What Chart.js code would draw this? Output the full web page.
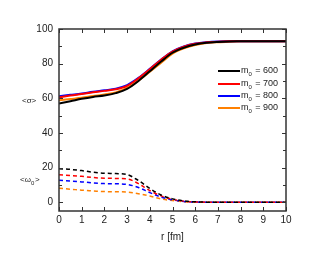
<!DOCTYPE html>
<html>
<head>
<meta charset="utf-8">
<script src="https://cdn.jsdelivr.net/npm/chart.js@4.4.1/dist/chart.umd.min.js"></script>
<style>
  html, body { margin: 0; padding: 0; background: #fff; }
  #wrap { width: 332px; height: 254px; }
</style>
</head>
<body>
<div id="wrap"><canvas id="c" width="332" height="254"></canvas></div>
<script>
// radius values (fm)
const rValues = [0, 0.5, 1, 1.5, 2, 2.5, 3, 3.5, 4, 4.5, 5, 5.5, 6, 6.5, 7, 7.5, 8, 8.5, 9, 9.5, 10];

// <sigma> for each m0
const sigma600 = [57, 58.3, 59.7, 60.8, 61.6, 63, 65.4, 70, 75.6, 81.2, 86.3, 89.2, 91, 92, 92.5, 92.8, 92.9, 93, 93, 93, 93];
const sigma700 = [60.5, 61.6, 62.5, 63.5, 64.3, 65.2, 67.2, 71.5, 76.8, 82.3, 87, 89.8, 91.5, 92.3, 92.7, 92.9, 93, 93, 93, 93, 93];
const sigma800 = [61.2, 62, 62.8, 63.8, 64.6, 65.5, 67.6, 71.8, 77, 82.4, 87.1, 89.9, 91.6, 92.4, 92.8, 92.9, 93, 93, 93, 93, 93];
const sigma900 = [58.9, 59.6, 60.3, 61.3, 62.2, 63.4, 66, 70.2, 75.3, 80.6, 85.8, 88.8, 90.8, 91.9, 92.4, 92.7, 92.9, 93, 93, 93, 93];

// <omega0> for each m0
const omega600 = [19.4, 19.0, 18.3, 17.4, 16.8, 16.6, 16.0, 12.6, 8.0, 4.2, 2.0, 0.8, 0.3, 0.1, 0, 0, 0, 0, 0, 0, 0];
const omega700 = [15.9, 15.5, 15.0, 14.3, 13.9, 13.8, 13.5, 10.8, 6.8, 3.7, 1.8, 0.7, 0.2, 0.1, 0, 0, 0, 0, 0, 0, 0];
const omega800 = [12.7, 12.3, 11.8, 11.2, 10.8, 10.7, 10.3, 8.6, 5.6, 3.0, 1.4, 0.5, 0.2, 0, 0, 0, 0, 0, 0, 0, 0];
const omega900 = [8.1, 7.6, 7.0, 6.6, 6.2, 6.1, 5.9, 5.0, 3.6, 2.0, 1.0, 0.4, 0.1, 0, 0, 0, 0, 0, 0, 0, 0];

const massLabels = ['600', '700', '800', '900'];
const colors = ['#000000', '#ff0000', '#0000ff', '#ff8000'];
const xTicks = [0, 1, 2, 3, 4, 5, 6, 7, 8, 9, 10];
const yTicks = [0, 20, 40, 60, 80, 100];

function pts(arr) {
  return arr.map((v, i) => ({ x: rValues[i], y: v }));
}

const sigmaSets = [sigma600, sigma700, sigma800, sigma900];
const omegaSets = [omega600, omega700, omega800, omega900];

const datasets = [];
sigmaSets.forEach((s, i) => {
  datasets.push({ data: pts(s), borderColor: colors[i], borderWidth: 2, pointRadius: 0, cubicInterpolationMode: 'monotone' });
});
omegaSets.forEach((s, i) => {
  datasets.push({ data: pts(s), borderColor: colors[i], borderWidth: 1.5, borderDash: [4, 3], pointRadius: 0, cubicInterpolationMode: 'monotone' });
});

const font = 'Liberation Sans, Arial, sans-serif';

// frame, inner ticks, axis labels and legend
const decor = {
  id: 'decor',
  afterDraw(chart) {
    const ctx = chart.ctx;
    const a = chart.chartArea;
    const xs = chart.scales.x, ys = chart.scales.y;
    ctx.save();
    ctx.strokeStyle = '#333';
    ctx.lineWidth = 1;
    // ticks
    ctx.beginPath();
    xTicks.forEach(v => {
      const px = Math.round(xs.getPixelForValue(v)) + 0.5;
      ctx.moveTo(px, a.bottom); ctx.lineTo(px, a.bottom - 4);
      ctx.moveTo(px, a.top); ctx.lineTo(px, a.top + 4);
    });
    for (let v = 0; v <= 100; v += 10) {
      const py = Math.round(ys.getPixelForValue(v)) + 0.5;
      const len = (v % 20 === 0) ? 4 : 3;
      ctx.moveTo(a.left, py); ctx.lineTo(a.left + len, py);
      ctx.moveTo(a.right, py); ctx.lineTo(a.right - len, py);
    }
    ctx.stroke();
    // frame
    ctx.lineWidth = 1.5;
    ctx.strokeRect(a.left, a.top, a.right - a.left, a.bottom - a.top);

    // axis labels
    ctx.fillStyle = '#222';
    ctx.font = '8px ' + font;
    ctx.textBaseline = 'middle';
    ctx.textAlign = 'left';
    ctx.fillText('<σ>', 22, 101);
    ctx.fillText('<ω', 20, 180);
    const w = ctx.measureText('<ω').width;
    ctx.font = '6px ' + font;
    ctx.fillText('0', 20 + w, 183);
    ctx.font = '8px ' + font;
    ctx.fillText('>', 20 + w + 4, 180);

    ctx.font = '10px ' + font;
    ctx.textAlign = 'center';
    ctx.fillText('r [fm]', (a.left + a.right) / 2, 237);

    // legend
    const rows = [71, 84, 96, 108];
    rows.forEach((y, i) => {
      ctx.strokeStyle = colors[i];
      ctx.lineWidth = 2;
      ctx.beginPath();
      ctx.moveTo(218, y); ctx.lineTo(240, y);
      ctx.stroke();
      ctx.fillStyle = '#222';
      ctx.textAlign = 'left';
      ctx.font = '9px ' + font;
      ctx.fillText('m', 241, y);
      let x = 241 + ctx.measureText('m').width;
      ctx.font = '6px ' + font;
      ctx.fillText('0', x, y + 3);
      x += ctx.measureText('0').width + 1;
      ctx.font = '9px ' + font;
      ctx.fillText(' = ' + massLabels[i], x, y);
    });
    ctx.restore();
  }
};

new Chart(document.getElementById('c'), {
  type: 'line',
  data: { datasets: datasets },
  options: {
    responsive: false,
    animation: false,
    layout: { padding: { left: 0, right: 46, top: 29, bottom: 0 } },
    plugins: { legend: { display: false }, tooltip: { enabled: false } },
    scales: {
      x: {
        type: 'linear', min: 0, max: 10,
        grid: { display: false, drawTicks: false, tickLength: 0 },
        border: { display: false },
        afterBuildTicks: s => { s.ticks = xTicks.map(v => ({ value: v })); },
        afterFit: s => { s.height = 43; },
        ticks: { color: '#222', font: { family: font, size: 10 }, padding: 3, maxRotation: 0 }
      },
      y: {
        type: 'linear', min: -5, max: 100,
        grid: { display: false, drawTicks: false, tickLength: 0 },
        border: { display: false },
        afterBuildTicks: s => { s.ticks = yTicks.map(v => ({ value: v })); },
        afterFit: s => { s.width = 59; },
        ticks: { color: '#222', font: { family: font, size: 10 }, padding: 6 }
      }
    }
  },
  plugins: [decor]
});
</script>
</body>
</html>
